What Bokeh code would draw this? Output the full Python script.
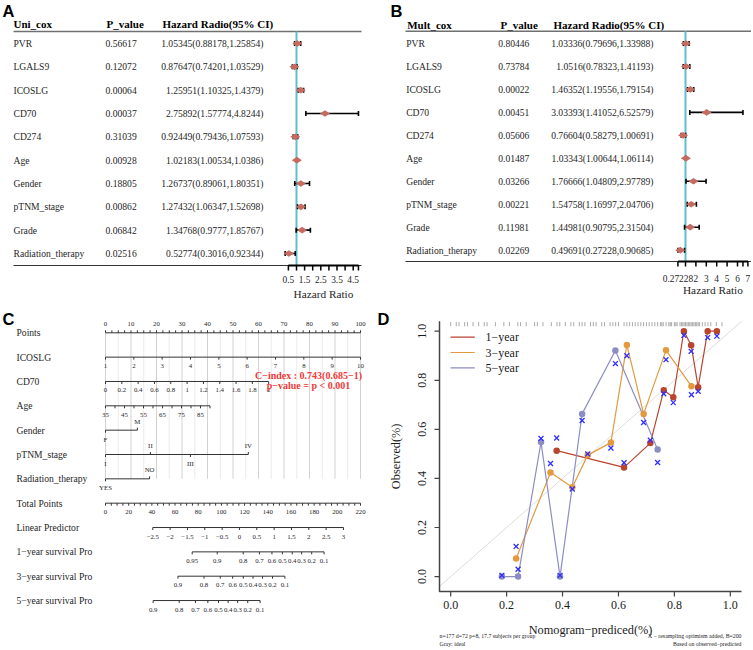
import numpy as np
from bokeh.plotting import figure
from bokeh.models import Range1d
from bokeh.layouts import row, column
from bokeh.embed import file_html
from bokeh.resources import INLINE
from bokeh.core.properties import value

SERIF = "Liberation Serif"
SANS = "Liberation Sans"

# ================= DATA =================
cox_vars = ["PVR", "LGALS9", "ICOSLG", "CD70", "CD274", "Age", "Gender",
            "pTNM_stage", "Grade", "Radiation_therapy"]

# Panel A: univariate Cox
uni_p = [0.56617, 0.12072, 0.00064, 0.00037, 0.31039, 0.00928, 0.18805, 0.00862, 0.06842, 0.02516]
uni_hr = [1.05345, 0.87647, 1.25951, 2.75892, 0.92449, 1.02183, 1.26737, 1.27432, 1.34768, 0.52774]
uni_lo = [0.88178, 0.74201, 1.10325, 1.57774, 0.79436, 1.00534, 0.89061, 1.06347, 0.9777, 0.3016]
uni_hi = [1.25854, 1.03529, 1.4379, 4.8244, 1.07593, 1.0386, 1.80351, 1.52698, 1.85767, 0.92344]
uni_ticks = [0.5, 1, 1.5, 2, 2.5, 3, 3.5, 4, 4.5, 4.8244]
uni_tick_labels = ["0.5", "", "1.5", "", "2.5", "", "3.5", "", "4.5", ""]

# Panel B: multivariate Cox
mult_p = [0.80446, 0.73784, 0.00022, 0.00451, 0.05606, 0.01487, 0.03266, 0.00221, 0.11981, 0.02269]
mult_hr = [1.03336, 1.0516, 1.46352, 3.03393, 0.76604, 1.03343, 1.76666, 1.54758, 1.44981, 0.49691]
mult_lo = [0.79696, 0.78323, 1.19556, 1.41052, 0.58279, 1.00644, 1.04809, 1.16997, 0.90795, 0.27228]
mult_hi = [1.33988, 1.41193, 1.79154, 6.52579, 1.00691, 1.06114, 2.97789, 2.04706, 2.31504, 0.90685]
mult_ticks = [0.27228, 1, 2, 3, 4, 5, 6, 6.52579, 7]
mult_tick_labels = ["0.27228", "", "2", "3", "4", "5", "6", "", "7"]

# Panel C: nomogram
nomo_rows = ["Points", "ICOSLG", "CD70", "Age", "Gender", "pTNM_stage", "Radiation_therapy",
             "Total Points", "Linear Predictor", "1\u2212year survival Pro",
             "3\u2212year survival Pro", "5\u2212year survival Pro"]
points_labels = [0, 10, 20, 30, 40, 50, 60, 70, 80, 90, 100]
points_ticks = [i * 2.5 for i in range(41)]
icoslg_vals = [1, 2, 3, 4, 5, 6, 7, 8, 9, 10]
icoslg_scale = (1, 10, 0, 100)          # value range -> points range
cd70_vals = [0, 0.2, 0.4, 0.6, 0.8, 1, 1.2, 1.4, 1.6, 1.8, 2]
cd70_scale = (0, 2, 0, 64.0)
age_vals = [35, 45, 55, 65, 75, 85]
age_ticks = [35, 40, 45, 50, 55, 60, 65, 70, 75, 80, 85, 90]
age_scale = (35, 85, 0, 37.25)
gender_levels = ["F", "M"]
gender_pts = [0, 12.5]
ptnm_levels = ["I", "II", "III", "IV"]
ptnm_pts = [0, 17.6, 33.3, 56.0]
rad_levels = ["YES", "NO"]
rad_pts = [0, 17.3]
total_labels = [0, 20, 40, 60, 80, 100, 120, 140, 160, 180, 200, 220]
total_ticks = [i * 5 for i in range(45)]
lp_vals = [-2.5, -2, -1.5, -1, -0.5, 0, 0.5, 1, 1.5, 2, 2.5, 3]
lp_scale = (-2.5, 3, 40.8, 205.3)        # value range -> total points range
surv1_vals = [0.95, 0.9, 0.8, 0.7, 0.6, 0.5, 0.4, 0.3, 0.2, 0.1]
surv1_tp = [74.8, 96.4, 118.8, 132.8, 143.6, 152.6, 161.1, 169.2, 177.9, 188.6]
surv3_vals = [0.9, 0.8, 0.7, 0.6, 0.5, 0.4, 0.3, 0.2, 0.1]
surv3_tp = [62.5, 85.0, 99.0, 109.7, 118.9, 127.3, 135.5, 144.1, 154.8]
surv5_vals = [0.9, 0.8, 0.7, 0.6, 0.5, 0.4, 0.3, 0.2, 0.1]
surv5_tp = [41.1, 63.6, 77.6, 88.3, 97.5, 105.8, 114.0, 122.7, 133.4]
cindex_lines = ["C\u2212index : 0.743(0.685\u22121)", "p\u2212value = p < 0.001"]

# Panel D: calibration
cal1_pred = [0.379, 0.620, 0.714, 0.762, 0.796, 0.834, 0.860, 0.885, 0.919, 0.952]
cal1_obs = [0.513, 0.445, 0.544, 0.759, 0.731, 1.000, 0.943, 0.772, 1.000, 1.000]
cal1_cor = [0.565, 0.464, 0.556, 0.745, 0.709, 0.983, 0.918, 0.755, 0.974, 0.980]
cal3_pred = [0.234, 0.357, 0.435, 0.490, 0.573, 0.630, 0.690, 0.770, 0.861]
cal3_obs = [0.074, 0.424, 0.364, 0.495, 0.546, 0.944, 0.663, 0.922, 0.776]
cal3_cor = [0.123, 0.461, 0.357, 0.500, 0.524, 0.900, 0.628, 0.884, 0.741]
cal5_pred = [0.183, 0.241, 0.323, 0.391, 0.470, 0.589, 0.740]
cal5_obs = [0.000, 0.000, 0.548, 0.000, 0.663, 0.921, 0.518]
cal5_cor = [0.005, 0.030, 0.563, 0.005, 0.636, 0.868, 0.465]
rug_pred = [0.00, 0.02, 0.03, 0.05, 0.06, 0.08, 0.10, 0.12, 0.13, 0.16, 0.19, 0.21, 0.24, 0.25,
            0.27, 0.30, 0.31, 0.33, 0.36, 0.38, 0.39, 0.41, 0.43, 0.44, 0.46, 0.47, 0.48, 0.50,
            0.51, 0.52, 0.54, 0.55, 0.57, 0.58, 0.59, 0.60, 0.62, 0.63, 0.64, 0.65, 0.66, 0.67,
            0.68, 0.69, 0.70, 0.71, 0.72, 0.73, 0.74, 0.75, 0.755, 0.76, 0.77, 0.78, 0.785, 0.79,
            0.80, 0.805, 0.81, 0.82, 0.825, 0.83, 0.835, 0.84, 0.845, 0.85, 0.855, 0.86, 0.865,
            0.87, 0.875, 0.88, 0.885, 0.89, 0.90, 0.91, 0.92, 0.93, 0.95, 0.97]
d_ticks = [0.0, 0.2, 0.4, 0.6, 0.8, 1.0]
d_legend = ["1\u2212year", "3\u2212year", "5\u2212year"]
d_xlabel = "Nomogram\u2212prediced(%)"
d_ylabel = "Observed(%)"
d_foot_left = ["n=177 d=72 p=8, 17.7 subjects per group", "Gray: ideal"]
d_foot_right = ["X \u2212 resampling optimism added, B=200", "Based on observed\u2212predicted"]

COL1, COL3, COL5 = "#B9452F", "#E39A3F", "#8C8EC3"
XCOL = "#2E2EFF"
TXT = "#262626"


# ================= helpers =================
def blank(W, H):
    p = figure(width=W, height=H, x_range=Range1d(0, W), y_range=Range1d(H, 0),
               output_backend="svg", toolbar_location=None, min_border=0,
               x_axis_location=None, y_axis_location=None)
    p.grid.visible = False
    p.outline_line_color = None
    return p


def txt(p, xs, ys, texts, size, color=TXT, bold=False, align="left", baseline="middle",
        font=SERIF, xr=None, yr=None, angle=0.0):
    kw = {}
    if xr:
        kw["x_range_name"] = xr
    if yr:
        kw["y_range_name"] = yr
    p.text(x=list(xs), y=list(ys), text=list(texts), text_font=value(font),
           text_font_size=value(f"{size}px"), text_font_style="bold" if bold else "normal",
           text_color=color, text_align=align, text_baseline=baseline, angle=angle, **kw)


def lin(v, s):
    v0, v1, p0, p1 = s
    return p0 + (v - v0) * (p1 - p0) / (v1 - v0)


# ================= forest panels =================
def forest(L, label, head, p_vals, hr, lo, hi, ticks, tick_labels):
    W, H = L["W"], L["H"]
    p = blank(W, H)
    p.extra_x_ranges = {"hr": Range1d(1 - L["hr1"] / L["k"], 1 + (W - L["hr1"]) / L["k"])}
    p.extra_y_ranges = {"row": Range1d((H - L["row0"]) / L["rowh"], -L["row0"] / L["rowh"])}
    rows = list(range(len(cox_vars)))
    n = len(rows)
    txt(p, [L["lab_x"]], [1], [label], 16.5, color="black", bold=True, baseline="top", font=SANS)
    txt(p, L["head_x"], [L["head_y"]] * 3, head, 11, color="black", bold=True)
    x0, x1 = L["line_x"]
    p.line([x0, x1], [L["head_line"]] * 2, line_color="#707070", line_width=1.6)
    p.line([x0, x1], [L["bottom"]] * 2, line_color="#333333", line_width=1.2)
    txt(p, [L["name_x"]] * n, rows, cox_vars, 9.6, yr="row")
    txt(p, [L["p_x"]] * n, rows, [f"{v:.5f}" for v in p_vals], 9.6, yr="row")
    txt(p, [L["ci_right"]] * n, rows, [f"{h}({a},{b})" for h, a, b in zip(hr, lo, hi)], 9.6,
        align="right", yr="row")
    p.segment(x0=[1], x1=[1], y0=[L["head_line"]], y1=[L["bottom"]], x_range_name="hr",
              line_color="#62BDD0", line_width=2)
    p.segment(x0=lo, x1=hi, y0=rows, y1=rows, x_range_name="hr", y_range_name="row",
              line_color="black", line_width=1.6)
    p.scatter(x=lo + hi, y=rows + rows, marker="dash", angle=np.pi / 2, size=5,
              line_color="black", line_width=1.6, x_range_name="hr", y_range_name="row")
    p.scatter(x=hr, y=rows, marker="diamond", angle=np.pi / 2, size=10,
              fill_color="#C56B60", line_color=None, x_range_name="hr", y_range_name="row")
    p.segment(x0=[min(ticks)], x1=[max(ticks)], y0=[L["bottom"]], y1=[L["bottom"]],
              x_range_name="hr", line_color="black", line_width=2)
    p.segment(x0=ticks, x1=ticks, y0=[L["bottom"]] * len(ticks), y1=[L["bottom"] + 5] * len(ticks),
              x_range_name="hr", line_color="black", line_width=1.5)
    txt(p, ticks, [L["tick_y"]] * len(ticks), tick_labels, 9.4, align="center", xr="hr")
    txt(p, [(min(ticks) + max(ticks)) / 2], [L["title_y"]], ["Hazard Ratio"], 11.3,
        align="center", xr="hr")
    return p


LA = dict(W=375, H=304, lab_x=2, head_x=[13, 106, 162], head_y=23, line_x=(13, 361), head_line=31,
          bottom=265, row0=43, rowh=23.33, name_x=13, p_x=105, ci_right=263, hr1=296, k=16.2,
          tick_y=279, title_y=293)
LB = dict(W=376, H=304, lab_x=15, head_x=[31.7, 125, 178], head_y=24, line_x=(30, 376),
          head_line=30.7, bottom=261, row0=43, rowh=22.96, name_x=30.7, p_x=122.7, ci_right=278,
          hr1=310, k=10.4, tick_y=277.7, title_y=289)

pA = forest(LA, "A", ["Uni_cox", "P_value", "Hazard Radio(95% CI)"], uni_p, uni_hr, uni_lo, uni_hi,
            uni_ticks, uni_tick_labels)
pB = forest(LB, "B", ["Mult_cox", "P_value", "Hazard Radio(95% CI)"], mult_p, mult_hr, mult_lo,
            mult_hi, mult_ticks, mult_tick_labels)

# ================= nomogram =================
WC, HC = 375, 343
C_X0, C_K = 105, 2.55
C_KT = 255 / 220
C_ROW0, C_ROWH = 28.3, 24.34
pC = blank(WC, HC)
pC.extra_x_ranges = {"pts": Range1d(-C_X0 / C_K, (WC - C_X0) / C_K),
                     "tp": Range1d(-C_X0 / C_KT, (WC - C_X0) / C_KT)}
pC.extra_y_ranges = {"row": Range1d((HC - C_ROW0) / C_ROWH, -C_ROW0 / C_ROWH)}

grid_major = points_labels
grid_minor = [v for v in points_ticks if v % 10 == 5]
pC.segment(x0=grid_minor, x1=grid_minor, y0=[0] * len(grid_minor), y1=[6] * len(grid_minor),
           x_range_name="pts", y_range_name="row", line_color="#EBEBEB", line_width=1)
pC.segment(x0=grid_major, x1=grid_major, y0=[0] * len(grid_major), y1=[6] * len(grid_major),
           x_range_name="pts", y_range_name="row", line_color="#D2D2D2", line_width=1)

txt(pC, [2], [5], ["C"], 16.5, color="black", bold=True, baseline="top", font=SANS)
txt(pC, [16] * len(nomo_rows), list(range(len(nomo_rows))), nomo_rows, 9.6, yr="row")

TICK, LAB = 2.5, 9.0


def axis_row(r, tick_pos, lab_pos, labels, xr, side):
    tick_pos, lab_pos = list(tick_pos), list(lab_pos)
    allp = tick_pos + lab_pos
    pC.line([min(allp), max(allp)], [r, r], x_range_name=xr, y_range_name="row",
            line_color="#333333", line_width=1)
    pC.segment(x0=tick_pos, x1=tick_pos, y0=[r] * len(tick_pos),
               y1=[r + side * TICK / C_ROWH] * len(tick_pos), x_range_name=xr, y_range_name="row",
               line_color="#333333", line_width=1)
    txt(pC, lab_pos, [r + side * LAB / C_ROWH] * len(lab_pos), labels, 6.8, align="center",
        xr=xr, yr="row")


def cat_row(r, pos, levels):
    pC.line([min(pos), max(pos)], [r, r], x_range_name="pts", y_range_name="row",
            line_color="#333333", line_width=1)
    for i, (x, lev) in enumerate(zip(pos, levels)):
        side = 1 if i % 2 == 0 else -1
        pC.segment(x0=[x], x1=[x], y0=[r], y1=[r + side * TICK / C_ROWH], x_range_name="pts",
                   y_range_name="row", line_color="#333333", line_width=1)
        txt(pC, [x], [r + side * LAB / C_ROWH], [lev], 6.8, align="center", xr="pts", yr="row")


def fmt(v):
    return f"{v:g}".replace("-", "\u2212")


axis_row(0, points_ticks, points_labels, [fmt(v) for v in points_labels], "pts", -1)
axis_row(1, [lin(v, icoslg_scale) for v in icoslg_vals], [lin(v, icoslg_scale) for v in icoslg_vals],
         [fmt(v) for v in icoslg_vals], "pts", 1)
axis_row(2, [lin(v, cd70_scale) for v in cd70_vals], [lin(v, cd70_scale) for v in cd70_vals],
         [fmt(v) for v in cd70_vals], "pts", 1)
axis_row(3, [lin(v, age_scale) for v in age_ticks], [lin(v, age_scale) for v in age_vals],
         [fmt(v) for v in age_vals], "pts", 1)
cat_row(4, gender_pts, gender_levels)
cat_row(5, ptnm_pts, ptnm_levels)
cat_row(6, rad_pts, rad_levels)
axis_row(7, total_ticks, total_labels, [fmt(v) for v in total_labels], "tp", 1)
axis_row(8, [lin(v, lp_scale) for v in lp_vals], [lin(v, lp_scale) for v in lp_vals],
         [fmt(v) for v in lp_vals], "tp", 1)
axis_row(9, surv1_tp, surv1_tp, [fmt(v) for v in surv1_vals], "tp", 1)
axis_row(10, surv3_tp, surv3_tp, [fmt(v) for v in surv3_vals], "tp", 1)
axis_row(11, surv5_tp, surv5_tp, [fmt(v) for v in surv5_vals], "tp", 1)

txt(pC, [308, 308], [70.7, 81.2], cindex_lines, 10, color="#F03A3A", bold=True, align="center")

# ================= calibration =================
WD, HD = 376, 343
D_L, D_R, D_T, D_B = 64, 366, 16.7, 287
XR = (-0.04, 1.04)
YR = (-0.0608, 1.0408)
kx = (D_R - D_L) / (XR[1] - XR[0])
ky = (D_B - D_T) / (YR[1] - YR[0])
pD = blank(WD, HD)
pD.extra_x_ranges = {"cx": Range1d(XR[0] - D_L / kx, XR[1] + (WD - D_R) / kx)}
pD.extra_y_ranges = {"cy": Range1d(YR[0] - (HD - D_B) / ky, YR[1] + D_T / ky)}
C = dict(x_range_name="cx", y_range_name="cy")

pD.line([XR[0], XR[1]], [XR[0], XR[1]], line_color="#DCDCDC", line_width=1, **C)
pD.segment(x0=rug_pred, x1=rug_pred, y0=[1.020] * len(rug_pred), y1=[1.037] * len(rug_pred),
           line_color="#6f6f6f", line_alpha=0.75, line_width=0.8, **C)
pD.line(cal1_pred, cal1_obs, line_color=COL1, line_width=1.2, **C)
pD.line(cal3_pred, cal3_obs, line_color=COL3, line_width=1.2, **C)
pD.line(cal5_pred, cal5_obs, line_color=COL5, line_width=1.2, **C)
for xs, ys, c in ((cal5_pred, cal5_obs, COL5), (cal3_pred, cal3_obs, COL3), (cal1_pred, cal1_obs, COL1)):
    pD.scatter(xs, ys, size=6.5, fill_color=c, line_color=None, **C)
for xs, ys in ((cal5_pred, cal5_cor), (cal3_pred, cal3_cor), (cal1_pred, cal1_cor)):
    pD.scatter(xs, ys, marker="x", size=7, line_color=XCOL, line_width=1.3, **C)

# axes (L-shaped box as in base R)
AXC = "#444444"
pD.line([D_L, D_L, D_R], [D_T, D_B, D_B], line_color=AXC, line_width=1.5)
pD.segment(x0=d_ticks, x1=d_ticks, y0=[D_B] * 6, y1=[D_B + 5] * 6, x_range_name="cx",
           line_color=AXC, line_width=1.2)
pD.segment(x0=[D_L] * 6, x1=[D_L - 5] * 6, y0=d_ticks, y1=d_ticks, y_range_name="cy",
           line_color=AXC, line_width=1.2)
txt(pD, d_ticks, [D_B + 13] * 6, [f"{v:.1f}" for v in d_ticks], 12, color="#1a1a1a",
    align="center", xr="cx")
txt(pD, [D_L - 17.3] * 6, d_ticks, [f"{v:.1f}" for v in d_ticks], 12, color="#1a1a1a",
    align="center", yr="cy", angle=np.pi / 2)
txt(pD, [(D_L + D_R) / 2], [325], [d_xlabel], 12.3, color="#1a1a1a", align="center")
txt(pD, [20], [(D_T + D_B) / 2], [d_ylabel], 12.3, color="#1a1a1a", align="center",
    angle=np.pi / 2)

# legend
for i, (lab, c) in enumerate(zip(d_legend, (COL1, COL3, COL5))):
    yy = 32.7 + 15.3 * i
    pD.line([75, 99.3], [yy, yy], line_color=c, line_width=1.2)
    txt(pD, [110], [yy], [lab], 12, color="#1a1a1a")

txt(pD, [2], [5], ["D"], 16.5, color="black", bold=True, baseline="top", font=SANS)
txt(pD, [D_L, D_L], [331.7, 339], d_foot_left, 5.8, color="#222222")
txt(pD, [D_R, D_R], [331.7, 339], d_foot_right, 5.8, color="#222222", align="right")

layout = column(row(pA, pB), row(pC, pD))
open("out.html", "w").write(file_html(layout, INLINE))
